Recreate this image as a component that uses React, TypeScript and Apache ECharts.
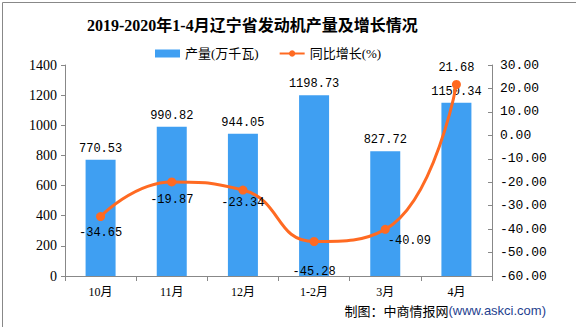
import React, { useEffect, useRef } from "react";
import * as echarts from "echarts";

const categories = ["10月", "11月", "12月", "1-2月", "3月", "4月"];
const production = [770.53, 990.82, 944.05, 1198.73, 827.72, 1150.34];
const growth = [-34.65, -19.87, -23.34, -45.28, -40.09, 21.68];
const leftTicks = { min: 0, max: 1400, interval: 200 };
const rightTicks = { min: -60, max: 30, interval: 10 };

const lineLabelPos: any[] = [
  { position: "bottom", distance: 6 },
  { position: "bottom", distance: 8 },
  { position: "bottom", distance: 2 },
  { position: "bottom", distance: 20 },
  { position: "right", distance: 4, offset: [-6, 12] },
  { position: "top", distance: 6 },
];

export default function App() {
  const ref = useRef<HTMLDivElement>(null);
  useEffect(() => {
    document.body.style.margin = "0";
    const chart = echarts.init(ref.current!, null, { renderer: "svg" });
    const serif = "'Liberation Serif', 'Noto Sans CJK SC', serif";
    const labelFont = "'Liberation Mono', 'DejaVu Sans Mono', monospace";
    chart.setOption({
      animation: false,
      backgroundColor: "#fff",
      title: {
        text: "2019-2020年1-4月辽宁省发动机产量及增长情况",
        left: 82,
        top: 12,
        textStyle: { fontFamily: serif, fontSize: 16, fontWeight: "bold", color: "#000" },
      },
      legend: {
        top: 42,
        left: 150,
        itemGap: 20,
        textStyle: { fontFamily: serif, fontSize: 13, color: "#000" },
        data: [
          { name: "产量(万千瓦)", icon: "rect" },
          { name: "同比增长(%)" },
        ],
        itemWidth: 25,
        itemHeight: 8,
      },
      grid: { left: 65, right: 84, top: 65, bottom: 51 },
      xAxis: {
        type: "category",
        data: categories,
        axisLine: { lineStyle: { color: "#888" } },
        axisTick: { show: true, lineStyle: { color: "#888" }, length: 5 },
        axisLabel: { color: "#000", fontFamily: serif, fontSize: 12, margin: 10 },
      },
      yAxis: [
        {
          type: "value",
          min: leftTicks.min,
          max: leftTicks.max,
          interval: leftTicks.interval,
          splitLine: { show: false },
          axisLine: { show: true, lineStyle: { color: "#888" } },
          axisTick: { show: true, lineStyle: { color: "#888" }, length: 4 },
          axisLabel: {
            color: "#000",
            fontFamily: serif,
            fontSize: 14,
            margin: 8,
            formatter: (v: number) => String(v),
          },
        },
        {
          type: "value",
          min: rightTicks.min,
          max: rightTicks.max,
          interval: rightTicks.interval,
          position: "right",
          splitLine: { show: false },
          axisLine: { show: true, lineStyle: { color: "#888" } },
          axisTick: { show: true, inside: true, lineStyle: { color: "#888" }, length: 4 },
          axisLabel: {
            color: "#000",
            fontFamily: labelFont,
            fontSize: 13,
            margin: 8,
            formatter: (v: number) => v.toFixed(2),
          },
        },
      ],
      series: [
        {
          name: "产量(万千瓦)",
          type: "bar",
          data: production,
          barWidth: 30,
          itemStyle: { color: "#3F9FF2" },
          label: {
            show: true,
            position: "top",
            distance: 5,
            color: "#000",
            fontFamily: labelFont,
            fontSize: 12,
          },
        },
        {
          name: "同比增长(%)",
          type: "line",
          yAxisIndex: 1,
          smooth: 0.5,
          data: growth.map((v, i) => ({
            value: v,
            label: { show: true, ...lineLabelPos[i] },
          })),
          symbol: "circle",
          symbolSize: 9,
          lineStyle: { color: "#FF6A22", width: 3 },
          itemStyle: { color: "#FF6A22" },
          label: {
            show: true,
            color: "#000",
            fontFamily: labelFont,
            fontSize: 12,
            formatter: (p: any) => p.value.toFixed(2),
          },
        },
      ],
      graphic: [
        {
          type: "rect",
          left: 0,
          top: 0,
          shape: { x: 0.5, y: 0.5, width: 575, height: 326 },
          style: { fill: "none", stroke: "#888", lineWidth: 1 },
          silent: true,
        },
        {
          type: "text",
          right: 30,
          top: 304,
          style: {
            text: "{a|制图：中商情报网}{b|(www.askci.com)}",
            rich: {
              a: { fontFamily: "'Noto Sans CJK SC', sans-serif", fontSize: 13, fill: "#000" },
              b: { fontFamily: "'Liberation Sans', sans-serif", fontSize: 13, fill: "#1F3F8F" },
            },
          },
        },
      ],
    });
    return () => chart.dispose();
  }, []);
  return <div ref={ref} style={{ width: 576, height: 327 }} />;
}
